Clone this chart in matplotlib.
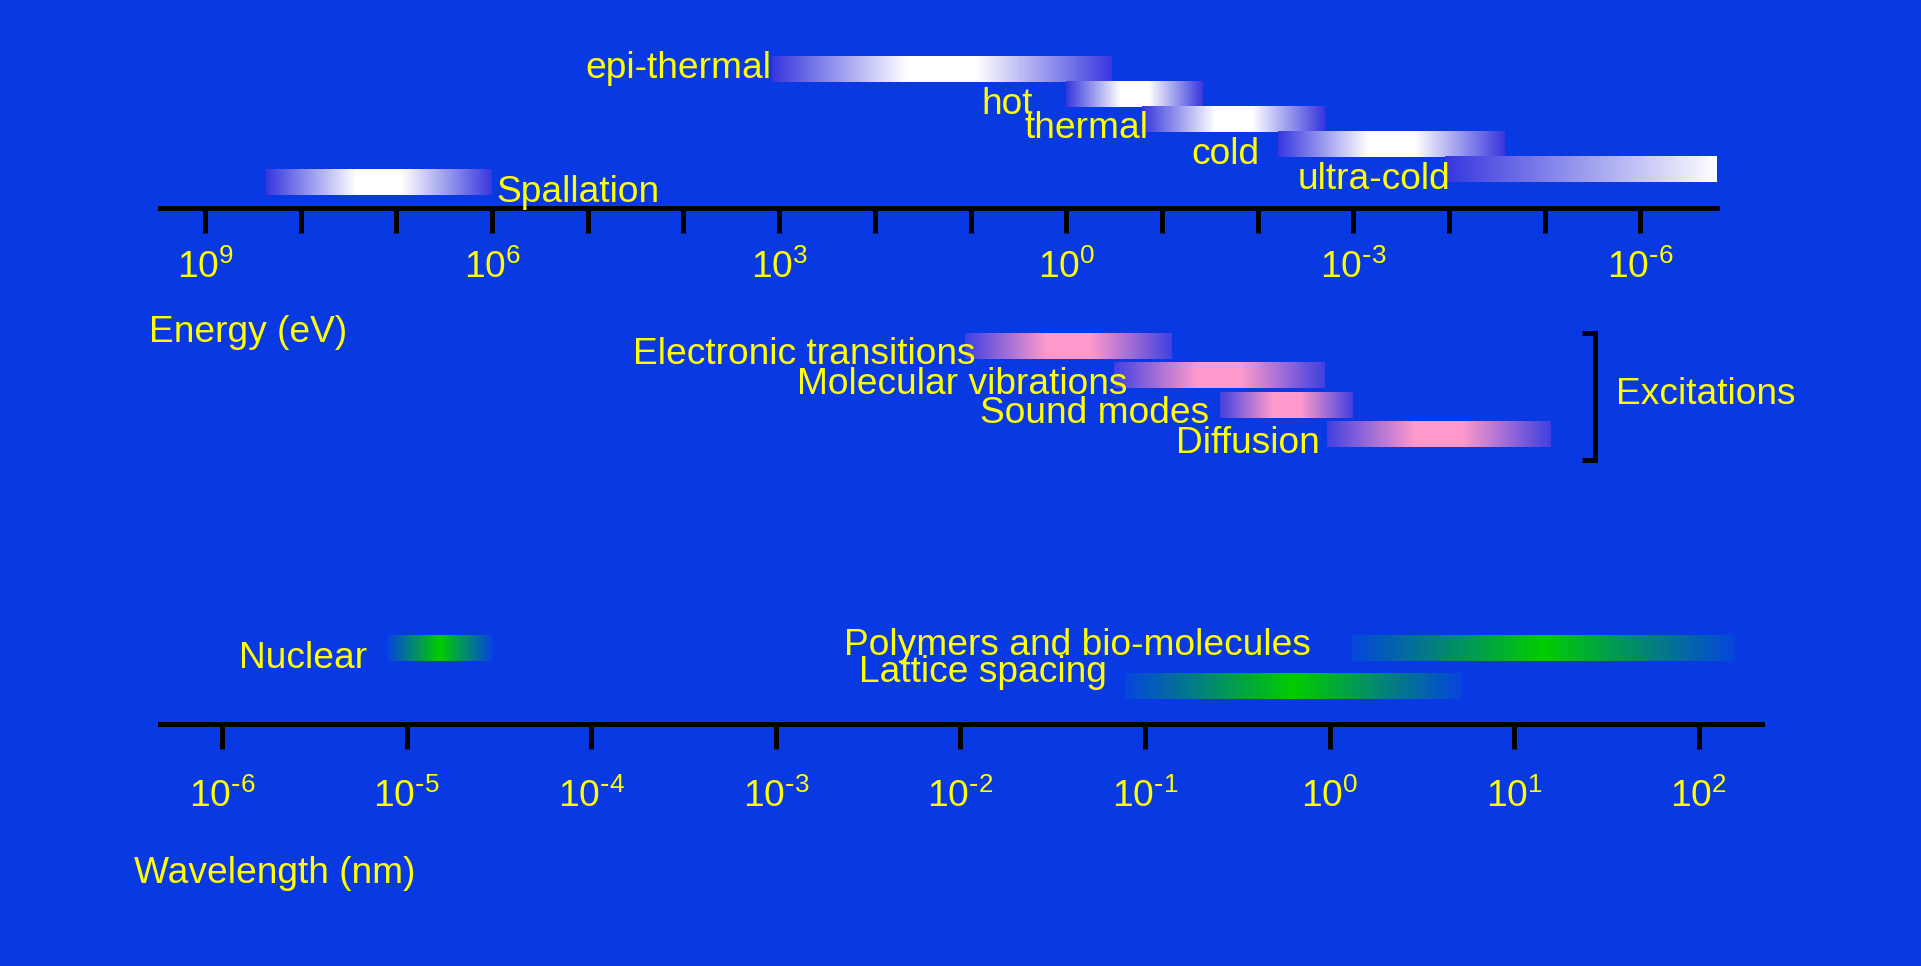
import numpy as np
import matplotlib
matplotlib.use('Agg')
import matplotlib.pyplot as plt
from matplotlib.colors import LinearSegmentedColormap
from matplotlib.ticker import FixedLocator, FuncFormatter, NullLocator

plt.rcParams['font.family'] = ['Liberation Sans', 'DejaVu Sans']
plt.rcParams['mathtext.default'] = 'regular'
plt.rcParams['axes.unicode_minus'] = False

# --- data ---
# neutron sources, energy range in eV (left edge = high energy, right edge = low energy)
neutron_names = ['epi-thermal', 'hot', 'thermal', 'cold', 'ultra-cold', 'Spallation']
neutron_hi = [1.2e3, 1.0, 0.16, 6.1e-3, 1.1e-4, 2.3e8]
neutron_lo = [0.33, 0.037, 2.0e-3, 2.6e-5, 1.5e-7, 1.0e6]

# excitations, energy range in eV
exc_names = ['Electronic transitions', 'Molecular vibrations', 'Sound modes', 'Diffusion']
exc_hi = [11.4, 0.32, 0.025, 1.9e-3]
exc_lo = [0.078, 2.0e-3, 1.0e-3, 8.7e-6]

# length scales, wavelength range in nm
length_names = ['Nuclear', 'Polymers and bio-molecules', 'Lattice spacing']
length_lo = [7.9e-6, 1.32, 0.078]
length_hi = [2.9e-5, 157.0, 5.2]

energy_exp = np.arange(9, -7, -1)
wave_exp = np.arange(-6, 3)

# --- style / layout ---
BG = '#0839E2'
YEL = '#FFFF00'
FS = 26.7
W, H = 1921, 966
PX = 25.0          # pixels per row unit
BAR_H = 1.04

neutron_rows = [5.54, 4.54, 3.54, 2.54, 1.54, 1.02]
exc_rows = [-5.54, -6.70, -7.90, -9.06]
length_rows = [3.02, 3.02, 1.52]

# label offsets in pixels (dx, dy down) from the bar's left edge / row centre
neutron_off = [(0, 9), (-33, 20), (6, 19), (-19, 20), (5, 20), (4, 20)]
exc_off = [(10, 18), (14, 19), (-10, 18), (-7, 19)]
length_off = [(-21, 20), (-41, 7), (-18, -3)]

cm_white = LinearSegmentedColormap.from_list('w', ['#3636DE', '#FFFFFF'])
cm_pink = LinearSegmentedColormap.from_list('p', ['#4040E0', '#FF99CC'])
cm_green = LinearSegmentedColormap.from_list('g', ['#0545DD', '#00CC00'])


def profile(n, kind):
    t = (np.arange(n) + 0.5) / n
    if kind == 'ramp':
        return t
    if kind == 'tri':
        return 1 - np.abs(2 * t - 1)
    return np.clip((1 - np.abs(2 * t - 1)) * 1.25, 0, 1)


def gbar(ax, x_left, x_right, yc, cmap, kind='flat'):
    n = 300
    xe = np.geomspace(x_left, x_right, n + 1)
    ye = [yc - BAR_H / 2, yc + BAR_H / 2]
    c = profile(n, kind)[None, :]
    ax.pcolormesh(xe, ye, c, cmap=cmap, vmin=0, vmax=1, shading='flat',
                  linewidth=0, antialiased=False, zorder=1)


def label(ax, text, x, yc, off, ha='right'):
    ax.annotate(text, xy=(x, yc), xytext=(off[0], -off[1]), textcoords='offset pixels',
                ha=ha, va='baseline', color=YEL, fontsize=FS, zorder=3)


def pow10(e):
    # plain hyphen in the exponent, like the original slide
    s = str(abs(e))
    return '$10^{\\text{-}%s}$' % s if e < 0 else '$10^{%s}$' % s


def make_axes(fig, left, right, top, bottom, axis_y):
    ax = fig.add_axes([left / W, 1 - bottom / H, (right - left) / W, (bottom - top) / H])
    ax.set_ylim(-(bottom - axis_y) / PX, (axis_y - top) / PX)
    ax.patch.set_visible(False)
    for s in ['left', 'right', 'top']:
        ax.spines[s].set_visible(False)
    ax.spines['bottom'].set_position(('data', 0))
    ax.spines['bottom'].set_linewidth(3.6)
    ax.spines['bottom'].set_color('black')
    ax.set_xscale('log')
    ax.yaxis.set_visible(False)
    ax.xaxis.set_minor_locator(NullLocator())
    return ax


fig = plt.figure(figsize=(W / 100, H / 100), dpi=100, facecolor=BG)

# energy axis
ax_e = make_axes(fig, 160, 1717, 0, 500, 207.5)
ax_e.set_xlim(10 ** 9.47, 10 ** -6.80)
ax_e.xaxis.set_major_locator(FixedLocator(10.0 ** energy_exp))
ax_e.xaxis.set_major_formatter(FuncFormatter(
    lambda v, p: pow10(round(np.log10(v))) if round(np.log10(v)) % 3 == 0 else ''))
ax_e.tick_params(axis='x', direction='out', length=18.3, width=3.6, color='black',
                 labelsize=FS, labelcolor=YEL, pad=12.5)

for i, name in enumerate(neutron_names):
    kind = 'ramp' if name == 'ultra-cold' else 'flat'
    gbar(ax_e, neutron_hi[i], neutron_lo[i], neutron_rows[i], cm_white, kind)
    if name == 'Spallation':
        label(ax_e, name, neutron_lo[i], neutron_rows[i], neutron_off[i], ha='left')
    else:
        label(ax_e, name, neutron_hi[i], neutron_rows[i], neutron_off[i])

for i, name in enumerate(exc_names):
    gbar(ax_e, exc_hi[i], exc_lo[i], exc_rows[i], cm_pink)
    label(ax_e, name, exc_hi[i], exc_rows[i], exc_off[i])

# bracket for excitations
e_br = 3.0e-6
e_tip = e_br * 10 ** (13 / 95.7)
b_top = exc_rows[0] + BAR_H / 2 + 0.02
b_bot = exc_rows[-1] - BAR_H / 2 - 0.5
ax_e.plot([e_tip, e_br, e_br, e_tip], [b_top, b_top, b_bot, b_bot], color='black',
          lw=3.6, solid_joinstyle='miter', solid_capstyle='butt', clip_on=False)
ax_e.annotate('Excitations', xy=(e_br, (b_top + b_bot) / 2), xytext=(21, -8),
              textcoords='offset pixels', ha='left', va='baseline', color=YEL, fontsize=FS)

# wavelength axis
ax_w = make_axes(fig, 160, 1762, 500, 966, 723.5)
ax_w.set_xlim(10 ** -6.336, 10 ** 2.342)
ax_w.xaxis.set_major_locator(FixedLocator(10.0 ** wave_exp))
ax_w.xaxis.set_major_formatter(FuncFormatter(lambda v, p: pow10(round(np.log10(v)))))
ax_w.tick_params(axis='x', direction='out', length=18.3, width=3.6, color='black',
                 labelsize=FS, labelcolor=YEL, pad=21.5)

for i, name in enumerate(length_names):
    gbar(ax_w, length_lo[i], length_hi[i], length_rows[i], cm_green, 'tri')
    label(ax_w, name, length_lo[i], length_rows[i], length_off[i])

fig.text(149 / W, 1 - 342 / H, 'Energy (eV)', color=YEL, fontsize=FS, ha='left', va='baseline')
fig.text(134 / W, 1 - 883 / H, 'Wavelength (nm)', color=YEL, fontsize=FS, ha='left', va='baseline')

fig.savefig('out.png', dpi=100, facecolor=BG)
